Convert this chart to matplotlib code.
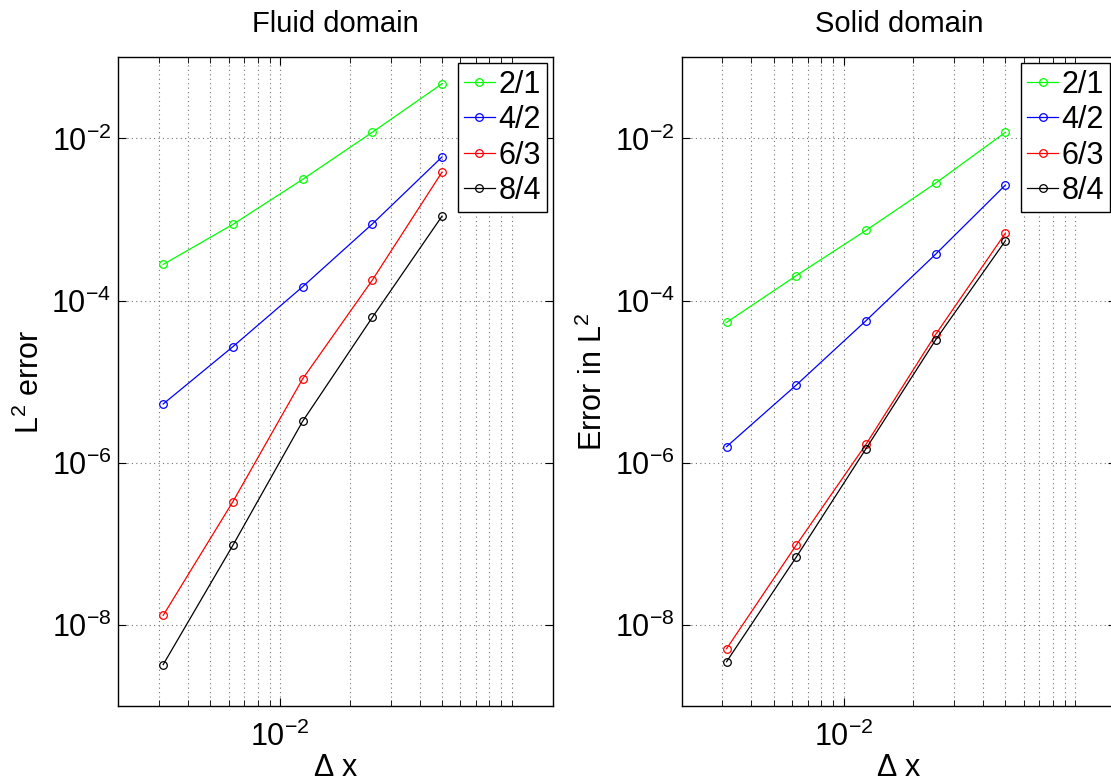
"""Convergence plots (fluid / solid) for the four element pairs, MATLAB look."""
import numpy as np
import matplotlib; matplotlib.use("Agg")
import matplotlib.pyplot as plt
from matplotlib.ticker import FixedLocator, NullFormatter, LogFormatterSciNotation

plt.rcParams["font.family"] = ["Liberation Sans", "DejaVu Sans"]
plt.rcParams["mathtext.default"] = "regular"

dx = [0.003125, 0.00625, 0.0125, 0.025, 0.05]
labels = ["2/1", "4/2", "6/3", "8/4"]
colors = ["#00ff00", "#0000ff", "#ff0000", "#000000"]

fluid_21 = [2.79e-4, 8.7e-4, 3.12e-3, 1.19e-2, 4.72e-2]
fluid_42 = [5.3e-6, 2.70e-5, 1.48e-4, 8.8e-4, 5.9e-3]
fluid_63 = [1.31e-8, 3.31e-7, 1.08e-5, 1.79e-4, 3.84e-3]
fluid_84 = [3.24e-9, 9.6e-8, 3.24e-6, 6.2e-5, 1.10e-3]

solid_21 = [5.38e-5, 2.03e-4, 7.34e-4, 2.81e-3, 1.19e-2]
solid_42 = [1.58e-6, 9.08e-6, 5.65e-5, 3.74e-4, 2.66e-3]
solid_63 = [5.09e-9, 9.67e-8, 1.69e-6, 3.83e-5, 6.8e-4]
solid_84 = [3.52e-9, 6.87e-8, 1.49e-6, 3.29e-5, 5.47e-4]

panels = [
    ("Fluid domain", r"$L^2$ error", [fluid_21, fluid_42, fluid_63, fluid_84]),
    ("Solid domain", r"Error in $L^2$", [solid_21, solid_42, solid_63, solid_84]),
]

FS = 21
W, H = 1111, 781
fig = plt.figure(figsize=(W / 100, H / 100), dpi=100)
# right panel is cut off by the figure edge, as in the source image
axes = [fig.add_axes([118.3 / W, 1 - 706 / H, 434.7 / W, 648.7 / H]),
        fig.add_axes([681.7 / W, 1 - 706 / H, 434.7 / W, 648.7 / H])]

xminor = [k * 1e-3 for k in range(3, 10)] + [k * 1e-2 for k in range(2, 11)]
grid_kw = dict(ls=(0, (1, 3)), color="0.45", lw=0.8)

for ax, (title, ylab, series) in zip(axes, panels):
    for y, lab, c in zip(series, labels, colors):
        ax.loglog(dx, y, "-o", color=c, lw=0.9, ms=5.5, mfc="none", mew=0.9, label=lab)
    ax.set_xlim(0.002, 0.1507)
    ax.set_ylim(1e-9, 1e-1)
    ax.xaxis.set_major_locator(FixedLocator([1e-2]))
    ax.xaxis.set_minor_locator(FixedLocator(xminor))
    ax.xaxis.set_minor_formatter(NullFormatter())
    ax.xaxis.set_major_formatter(LogFormatterSciNotation())
    ax.yaxis.set_major_locator(FixedLocator([1e-8, 1e-6, 1e-4, 1e-2]))
    ax.yaxis.set_minor_locator(FixedLocator([]))
    ax.grid(True, which="both", axis="x", **grid_kw)
    ax.grid(True, which="major", axis="y", **grid_kw)
    ax.tick_params(which="both", direction="in", top=True, right=True, labelsize=FS + 1)
    ax.tick_params(axis="x", pad=11)
    ax.tick_params(axis="y", pad=5)
    ax.tick_params(which="major", length=6, width=0.8)
    ax.tick_params(which="minor", length=4, width=0.6)
    for s in ax.spines.values():
        s.set_linewidth(1.0)
    ax.set_title(title, fontsize=FS, pad=18)
    ax.set_xlabel(r"$\Delta$ x", fontsize=FS + 1, labelpad=0)
    ax.set_ylabel(ylab, fontsize=FS + 1, labelpad=4)
    ax.legend(loc="upper right", fontsize=FS + 1, numpoints=1, handlelength=1.0,
              handletextpad=0.12, labelspacing=0.18, borderpad=0.2, borderaxespad=0.2,
              fancybox=False, framealpha=1, edgecolor="k")

fig.savefig("out.png", dpi=100)
